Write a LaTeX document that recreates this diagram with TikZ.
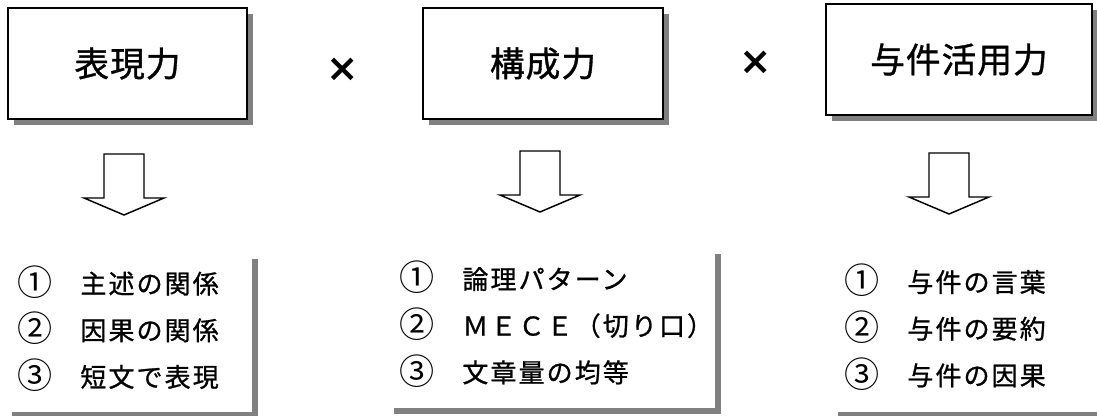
\documentclass[tikz,border=0pt]{standalone}
\usepackage{fontspec}
\usepackage{tikz}
\usetikzlibrary{shadows}
\newfontfamily\jpfont[LetterSpace=3, FakeBold=1]{Noto Sans CJK JP}
\newfontfamily\jplist[LetterSpace=8, FakeBold=0.9]{Noto Sans CJK JP}
\newfontfamily\marufont{Noto Sans CJK JP}
\newfontfamily\symfont{DejaVu Sans}
\newcommand\maru[1]{\raisebox{-1.3pt}{\scalebox{1.35}{\marufont #1}}}
\definecolor{shadowgray}{HTML}{808080}
\newcommand\downarrownode[2]{%
  (#1-20,#2) -- (#1+20,#2) -- (#1+20,#2+44) -- (#1+40,#2+44) -- (#1,#2+61)
  -- (#1-40,#2+44) -- (#1-20,#2+44) -- cycle}

\begin{document}
\begin{tikzpicture}[x=0.75pt, y=-0.75pt,
    skillbox/.style={draw=black, line width=1.2pt, fill=white,
      drop shadow={shadow xshift=4.5pt, shadow yshift=-4.5pt, fill=shadowgray, opacity=1},
      inner sep=0pt, font={\jpfont\fontsize{26}{30}\selectfont}},
    listbox/.style={fill=white,
      drop shadow={shadow xshift=4.5pt, shadow yshift=-4.5pt, fill=shadowgray, opacity=1},
      inner sep=0pt},
    listtext/.style={align=left, anchor=west, inner sep=0pt,
      font={\jplist\fontsize{19.5}{35}\selectfont}},
    timesmark/.style={font={\symfont\bfseries\fontsize{29}{30}\selectfont}, inner sep=0pt}]
  \useasboundingbox (0,0) rectangle (1097,416);

  % 上段の箱
  \node[skillbox, minimum width=239*0.75pt, minimum height=111*0.75pt] (hyogen) at (127.5,63.5) {表現力};
  \node[skillbox, minimum width=240*0.75pt, minimum height=111*0.75pt] (kosei) at (543,63.5) {構成力};
  \node[skillbox, minimum width=266*0.75pt, minimum height=111*0.75pt] (yoken) at (959,59.5) {与件活用力};

  % かけ算の記号
  \node[timesmark] (times1) at (343,70) {×};
  \node[timesmark] (times2) at (756,62.5) {×};

  % 下向きの矢印
  \draw[line width=1.1pt, line join=miter, fill=white] \downarrownode{124}{154};
  \draw[line width=1.1pt, line join=miter, fill=white] \downarrownode{540}{151};
  \draw[line width=1.1pt, line join=miter, fill=white] \downarrownode{949}{153};

  % 下段の箱
  \node[listbox, minimum width=246*0.75pt, minimum height=159*0.75pt] (hyogenlist) at (129,332.5) {};
  \node[listbox, minimum width=327*0.75pt, minimum height=160*0.75pt] (koseilist) at (551.5,328) {};
  \node[listbox, minimum width=273*0.75pt, minimum height=159*0.75pt] (yokenlist) at (968.5,332.5) {};

  % 箇条の文字
  \node[listtext] (hyogenitems) at (17,328.5) {\maru{①}　主述の関係\\\maru{②}　因果の関係\\\maru{③}　短文で表現};
  \node[listtext] (koseiitems) at (399,324) {\maru{①}　論理パターン\\\maru{②}　ＭＥＣＥ（切り口）\\\maru{③}　文章量の均等};
  \node[listtext] (yokenitems) at (844,327) {\maru{①}　与件の言葉\\\maru{②}　与件の要約\\\maru{③}　与件の因果};
\end{tikzpicture}
\end{document}
